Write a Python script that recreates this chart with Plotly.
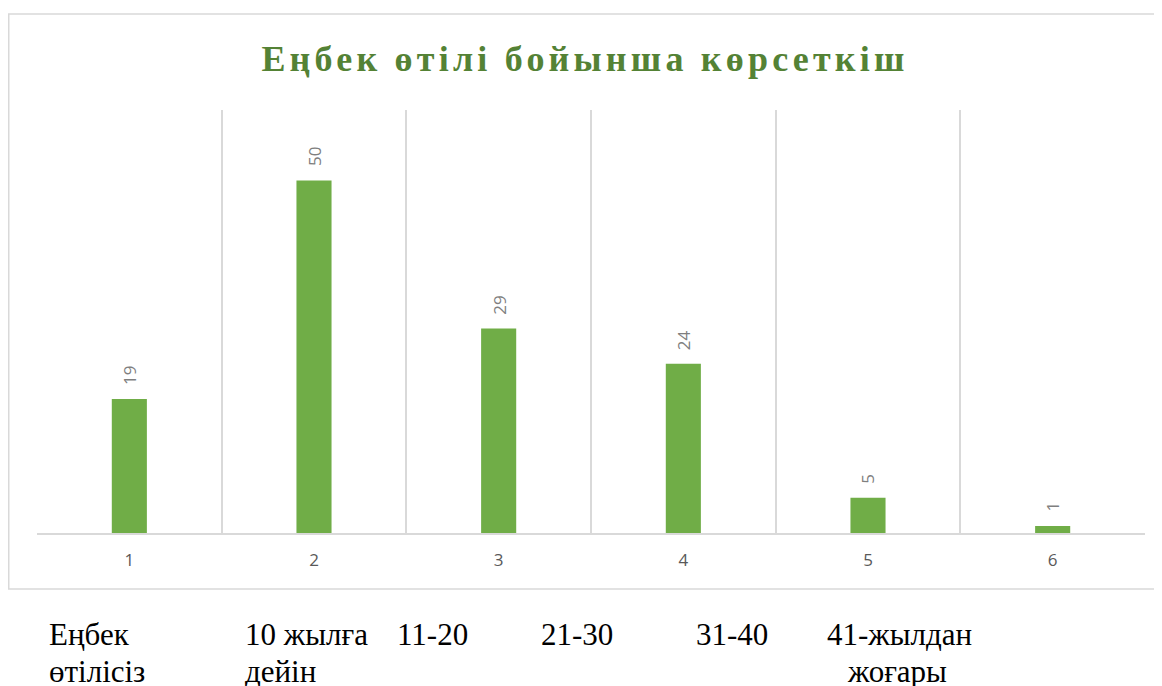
import plotly.graph_objects as go

# ---- data ----
categories = [1, 2, 3, 4, 5, 6]
tick_labels = ["1", "2", "3", "4", "5", "6"]
values = [19, 50, 29, 24, 5, 1]
title_text = "Еңбек өтілі бойынша көрсеткіш"
bottom_line1 = ["Еңбек", "10 жылға", "11-20", "21-30", "31-40", "41-жылдан"]
bottom_line2 = ["өтілісіз", "дейін", "", "", "", "жоғары"]

# ---- layout constants (pixels, figure coordinates) ----
W, H = 1162, 686
OFF = 8  # page body margin
L, T = 37 - OFF, 110 - OFF
R = W - (1145 - OFF)
B = H - (533 - OFF)
PW, PH = W - L - R, H - T - B

def px_x(x):  # x given in screenshot pixels
    return (x - OFF - L) / PW

def px_y(y):  # y given in screenshot pixels
    return (H - B - (y - OFF)) / PH

fig = go.Figure()
fig.add_trace(go.Bar(
    x=categories, y=values, width=0.19,
    marker=dict(color="#70ad47", line=dict(width=0)),
    hoverinfo="skip",
))

annotations = []
for c, v in zip(categories, values):
    annotations.append(dict(
        x=c, y=v, xref="x", yref="y", text=str(v), showarrow=False,
        textangle=-90, yanchor="bottom", xanchor="center", yshift=12,
        font=dict(family="Open Sans, Liberation Sans, sans-serif", size=17, color="#7f7f7f"),
    ))

line1_pos = [(47, 634), (243, 634), (395, 634), (539, 634), (694, 634), (825, 634)]
line2_pos = [(47, 671), (243, 671), None, None, None, (845, 671)]
bfont = dict(family="Liberation Serif, Times New Roman, serif", size=31, color="#000000")
for txt, pos in zip(bottom_line1, line1_pos):
    annotations.append(dict(x=px_x(pos[0]), y=px_y(pos[1]), xref="paper", yref="paper",
                            text=txt, showarrow=False, xanchor="left", yanchor="middle", font=bfont))
for txt, pos in zip(bottom_line2, line2_pos):
    if txt and pos:
        annotations.append(dict(x=px_x(pos[0]), y=px_y(pos[1]), xref="paper", yref="paper",
                                text=txt, showarrow=False, xanchor="left", yanchor="middle", font=bfont))

fig.update_layout(
    width=W, height=H,
    margin=dict(l=L, r=R, t=T, b=B, pad=0),
    paper_bgcolor="white", plot_bgcolor="white",
    showlegend=False,
    title=dict(text="<b>" + title_text + "</b>", x=(584 - OFF + 1) / W, xanchor="center",
               y=1 - (58 - OFF) / H, yanchor="middle", yref="container",
               font=dict(family="Liberation Serif, Times New Roman, serif", size=36, color="#548235")),
    xaxis=dict(range=[0.5, 6.5], tickmode="array", tickvals=categories, ticktext=tick_labels,
               showgrid=False, zeroline=False,
               showline=True, linecolor="#d9d9d9", linewidth=1.5,
               ticks="", ticklabelstandoff=11,
               tickfont=dict(family="Open Sans, Liberation Sans, sans-serif", size=17, color="#595959"),
               minor=dict(tickmode="linear", tick0=0.5, dtick=1, showgrid=True,
                          gridcolor="#d9d9d9", gridwidth=1.5, ticks="")),
    yaxis=dict(range=[0, 60], visible=False, showgrid=False, zeroline=False),
    annotations=annotations,
    shapes=[dict(type="rect", xref="paper", yref="paper",
                 x0=px_x(8.75), x1=px_x(1169), y0=px_y(589), y1=px_y(14),
                 line=dict(color="#d9d9d9", width=1.5), fillcolor="rgba(0,0,0,0)", layer="below")],
)

post = """
var gd = document.getElementById('{plot_id}');
gd.querySelectorAll('.gtitle').forEach(function(t){ t.style.letterSpacing = '4.2px'; });
"""
fig.write_html("out.html", post_script=post)
